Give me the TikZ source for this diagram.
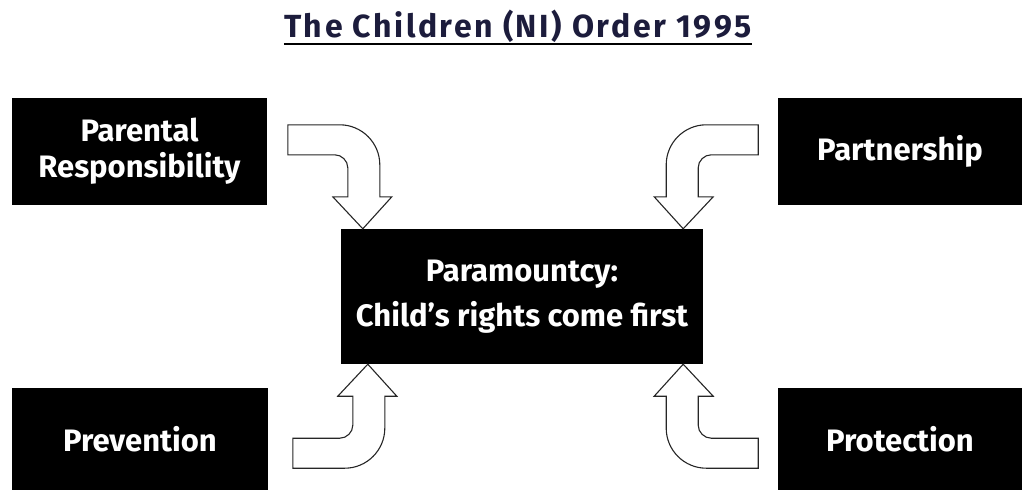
\documentclass[tikz,border=0pt]{standalone}
\usepackage{fontspec}
\setmainfont{Fira Sans}
\definecolor{titleblue}{HTML}{1C1C3C}

\tikzset{
  blackbox/.style={fill=black, text=white, align=center, inner sep=0pt,
    font=\fontsize{31}{36}\selectfont\bfseries},
  arrowline/.style={draw=black!85, line width=1.1pt, fill=white, line join=miter},
  pics/bentarrow/.style={code={
    \draw[arrowline] (-75,-104) -- (-23,-104)
      .. controls (-1,-104) and (17,-86) .. (17,-64)
      -- (17,-32) -- (29,-32) -- (0,0) -- (-30,-32) -- (-15,-32) -- (-15,-61)
      .. controls (-15,-68) and (-21,-74) .. (-28,-74)
      -- (-75,-74) -- cycle;
  }}
}

\begin{document}
\begin{tikzpicture}[x=1pt, y=-1pt]
\useasboundingbox (0,0) rectangle (1022,490);

% title
\node[inner sep=0pt, anchor=base, text=titleblue,
      font=\fontsize{32}{36}\selectfont\bfseries\addfontfeatures{LetterSpace=8}] (title) at (518,37) {The Children (NI) Order 1995};
\draw[line width=2.5pt] ([yshift=-7pt]title.base west) -- ([yshift=-7pt]title.base east);

% boxes
\node[blackbox, minimum width=255pt, minimum height=107pt] (parental) at (139.5,151.5) {Parental\\Responsibility};
\node[blackbox, minimum width=244pt, minimum height=107pt] (partner) at (900,151.5) {Partnership};
\node[blackbox, minimum width=362pt, minimum height=135pt,
      font=\fontsize{31}{45}\selectfont\bfseries] (para) at (522,296.5) {Paramountcy:\\Child's rights come first};
\node[blackbox, minimum width=256pt, minimum height=102pt] (prevent) at (140,439) {Prevention};
\node[blackbox, minimum width=244pt, minimum height=102pt] (protect) at (900,439) {Protection};

% arrows into the middle
\pic at ([xshift=22pt]para.north west) {bentarrow};
\pic[xscale=-1] at ([xshift=-20pt]para.north east) {bentarrow};
\pic[yscale=-1] at ([xshift=27pt]para.south west) {bentarrow};
\pic[xscale=-1, yscale=-1] at ([xshift=-20pt]para.south east) {bentarrow};

\end{tikzpicture}
\end{document}
